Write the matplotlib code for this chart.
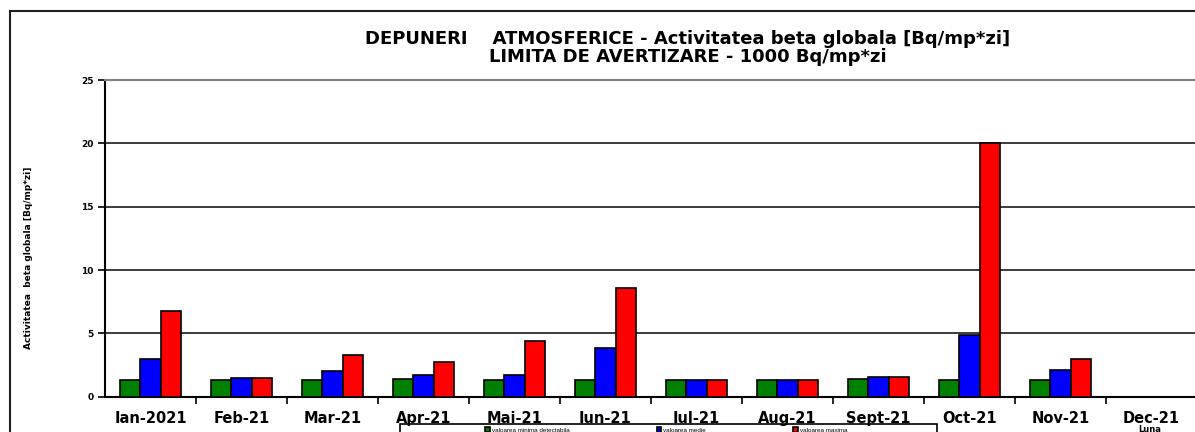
import numpy as np
import matplotlib.pyplot as plt
from matplotlib.patches import Rectangle

plt.rcParams['font.family'] = ['DejaVu Sans']

months = ['Ian-2021', 'Feb-21', 'Mar-21', 'Apr-21', 'Mai-21', 'Iun-21',
          'Iul-21', 'Aug-21', 'Sept-21', 'Oct-21', 'Nov-21', 'Dec-21']
val_min = [1.3, 1.3, 1.3, 1.4, 1.3, 1.3, 1.3, 1.3, 1.4, 1.3, 1.3, np.nan]
val_med = [3.0, 1.44, 2.03, 1.72, 1.72, 3.87, 1.3, 1.3, 1.56, 4.87, 2.14, np.nan]
val_max = [6.74, 1.44, 3.29, 2.73, 4.42, 8.58, 1.3, 1.3, 1.56, 20.0, 2.97, np.nan]
series_names = ['valoarea minima detectabila', 'valoarea medie', 'valoarea maxima']
series_colors = ['#008000', '#0000ff', '#ff0000']

W, H = 1195, 432
fig = plt.figure(figsize=(W / 100, H / 100), dpi=100)
ax = fig.add_axes([105 / W, (H - 396.7) / H, 1092 / W, 316.7 / H])

x = np.arange(len(months))
bw = 0.22
bars = []
for k, (vals, col, name) in enumerate(zip([val_min, val_med, val_max], series_colors, series_names)):
    b = ax.bar(x + (k - 1) * bw, vals, width=bw, color=col, edgecolor='black',
               linewidth=1.2, label=name, zorder=3)
    bars.append(b)

ax.set_xlim(-0.5, 11.5)
ax.set_ylim(0, 25)
ax.set_yticks([0, 5, 10, 15, 20, 25])
for v in [5, 10, 15, 20]:
    ax.axhline(v, color='#1a1a1a', lw=1.2, zorder=1)

ax.set_xticks(np.arange(0.5, 11.5, 1))
ax.set_xticklabels([])
ax.set_xticks(x, minor=True)
ax.set_xticklabels(months, minor=True, fontsize=10.5, fontweight='bold')
ax.tick_params(axis='x', which='major', direction='out', length=5, width=1.2)
ax.tick_params(axis='x', which='minor', length=0, pad=10)
ax.tick_params(axis='y', direction='out', length=5, width=1.2, pad=3)
for lab in ax.get_yticklabels():
    lab.set_fontsize(6.5)
    lab.set_fontweight('bold')

ax.spines['left'].set_linewidth(1.5)
ax.spines['bottom'].set_linewidth(1.5)
ax.spines['top'].set_color('#808080')
ax.spines['top'].set_linewidth(1.5)
ax.spines['right'].set_color('#b0b0b0')

ax.set_ylabel('Activitatea  beta globala [Bq/mp*zi]', fontsize=6.5, fontweight='bold')
ax.yaxis.set_label_coords(-72 / 1092, 0.44)

fig.text(688 / W, 1 - 39 / H, 'DEPUNERI    ATMOSFERICE - Activitatea beta globala [Bq/mp*zi]',
         ha='center', va='center', fontsize=13, fontweight='bold')
fig.text(688 / W, 1 - 57 / H, 'LIMITA DE AVERTIZARE - 1000 Bq/mp*zi',
         ha='center', va='center', fontsize=13, fontweight='bold')

# outer chart frame
fig.patches.append(Rectangle((10 / W, -0.1), 1.2, 1.1 - 11 / H, transform=fig.transFigure,
                             fill=False, edgecolor='#202020', lw=1.5))

# legend box
fig.patches.append(Rectangle((400 / W, -0.1), 537 / W, 0.1 + (H - 424) / H,
                             transform=fig.transFigure, fill=False, edgecolor='black',
                             lw=1.2, zorder=5))
fig.legend(handles=bars, labels=series_names, loc='upper left', ncol=3,
           bbox_to_anchor=(481 / W, 1 - 423 / H), frameon=False,
           prop={'family': 'Liberation Sans', 'size': 4.5},
           handlelength=0.7, handleheight=0.7, handletextpad=0.3,
           columnspacing=14, borderpad=0.2)

fig.text(1150 / W, 1 - 429 / H, 'Luna', ha='center', va='center', fontsize=6,
         fontweight='bold')

fig.savefig('out.png', dpi=100)
